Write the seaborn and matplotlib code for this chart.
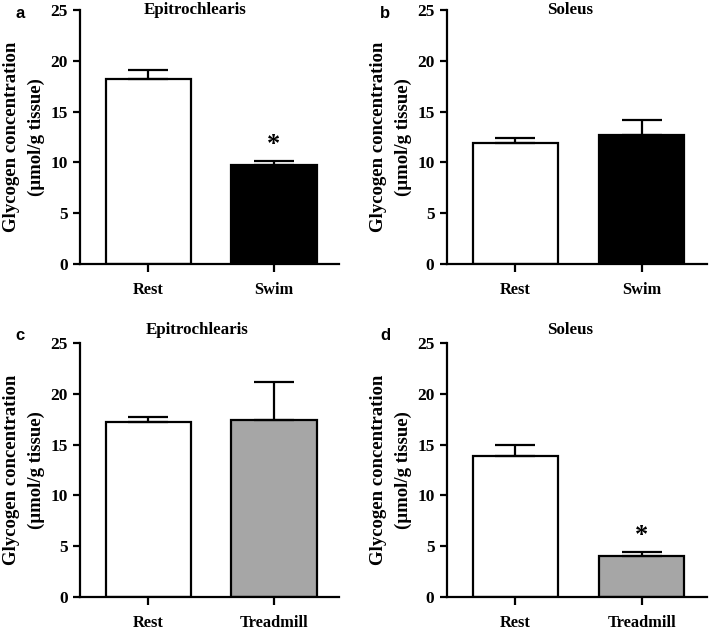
import pandas as pd
import matplotlib
matplotlib.use('Agg')
import matplotlib.pyplot as plt
import seaborn as sns

# 数据
groups_swim = ['Rest', 'Swim']
groups_tread = ['Rest', 'Treadmill']
epi_swim = [18.2, 9.7]
epi_swim_sem = [0.9, 0.4]
sol_swim = [11.9, 12.7]
sol_swim_sem = [0.5, 1.5]
epi_tread = [17.2, 17.4]
epi_tread_sem = [0.5, 3.8]
sol_tread = [13.9, 4.0]
sol_tread_sem = [1.1, 0.4]
sig_swim = [False, True]
sig_epi_tread = [False, False]
sig_sol_swim = [False, False]
sig_sol_tread = [False, True]

sns.set_theme(style="ticks")
plt.rcParams['font.family'] = ['Liberation Serif', 'DejaVu Serif']
plt.rcParams['font.weight'] = 'bold'
plt.rcParams['text.color'] = 'black'
plt.rcParams['axes.labelcolor'] = 'black'
plt.rcParams['xtick.color'] = 'black'
plt.rcParams['ytick.color'] = 'black'

fig = plt.figure(figsize=(7.09, 6.32), dpi=100)

W, H = 709, 632


def make_ax(x0, x1, ytop, ybot):
    return fig.add_axes([x0 / W, (H - ybot) / H, (x1 - x0) / W, (ybot - ytop) / H])


def draw_panel(ax, cats, vals, sems, sig, colors):
    df = pd.DataFrame({'group': cats, 'value': vals})
    sns.barplot(data=df, x='group', y='value', hue='group', palette=colors,
                width=0.675, edgecolor='black', linewidth=1.6, legend=False,
                errorbar=None, ax=ax, saturation=1)
    ax.errorbar(range(len(cats)), vals, yerr=[[0] * len(cats), sems],
                fmt='none', ecolor='black', elinewidth=1.6, capsize=14.5,
                capthick=1.6, zorder=1)
    for i, s in enumerate(sig):
        if s:
            ax.text(i, vals[i] + sems[i] + 0.5, '*', ha='center', va='bottom',
                    fontsize=19, fontweight='bold')
    ax.set_ylim(0, 25)
    ax.set_yticks([0, 5, 10, 15, 20, 25])
    ax.set_xlim(-0.54, 1.516)
    ax.set_xlabel('')
    ax.set_ylabel('Glycogen concentration\n(µmol/g tissue)', fontsize=13.5,
                  fontweight='bold', linespacing=1.55, labelpad=4)
    for sp in ['top', 'right']:
        ax.spines[sp].set_visible(False)
    for sp in ['left', 'bottom']:
        ax.spines[sp].set_linewidth(1.6)
        ax.spines[sp].set_color('black')
    ax.tick_params(axis='y', width=1.6, length=5, labelsize=12.5, pad=4)
    ax.tick_params(axis='x', width=1.6, length=6, labelsize=11.8, pad=7)
    for lab in ax.get_xticklabels() + ax.get_yticklabels():
        lab.set_fontweight('bold')


ax_a = make_ax(80, 339, 10, 264)
ax_b = make_ax(447, 707, 10, 264)
ax_c = make_ax(80, 339, 343, 597)
ax_d = make_ax(447, 707, 343, 597)

draw_panel(ax_a, groups_swim, epi_swim, epi_swim_sem, sig_swim, ['white', 'black'])
draw_panel(ax_b, groups_swim, sol_swim, sol_swim_sem, sig_sol_swim, ['white', 'black'])
draw_panel(ax_c, groups_tread, epi_tread, epi_tread_sem, sig_epi_tread, ['white', '#a6a6a6'])
draw_panel(ax_d, groups_tread, sol_tread, sol_tread_sem, sig_sol_tread, ['white', '#a6a6a6'])

# 标题和面板字母
fig.text(195 / W, 1 - 10 / H, 'Epitrochlearis', ha='center', va='center',
         fontsize=12.2, fontweight='bold')
fig.text(570 / W, 1 - 10 / H, 'Soleus', ha='center', va='center',
         fontsize=12.2, fontweight='bold')
fig.text(197 / W, 1 - 330 / H, 'Epitrochlearis', ha='center', va='center',
         fontsize=12.2, fontweight='bold')
fig.text(570 / W, 1 - 330 / H, 'Soleus', ha='center', va='center',
         fontsize=12.2, fontweight='bold')
for letter, x, y in [('a', 20, 13), ('b', 385, 13), ('c', 20, 335), ('d', 385, 335)]:
    fig.text(x / W, 1 - y / H, letter, ha='center', va='center', fontsize=12,
             fontweight='bold', family=['Liberation Sans', 'DejaVu Sans'])

fig.savefig('out.png', dpi=100)
